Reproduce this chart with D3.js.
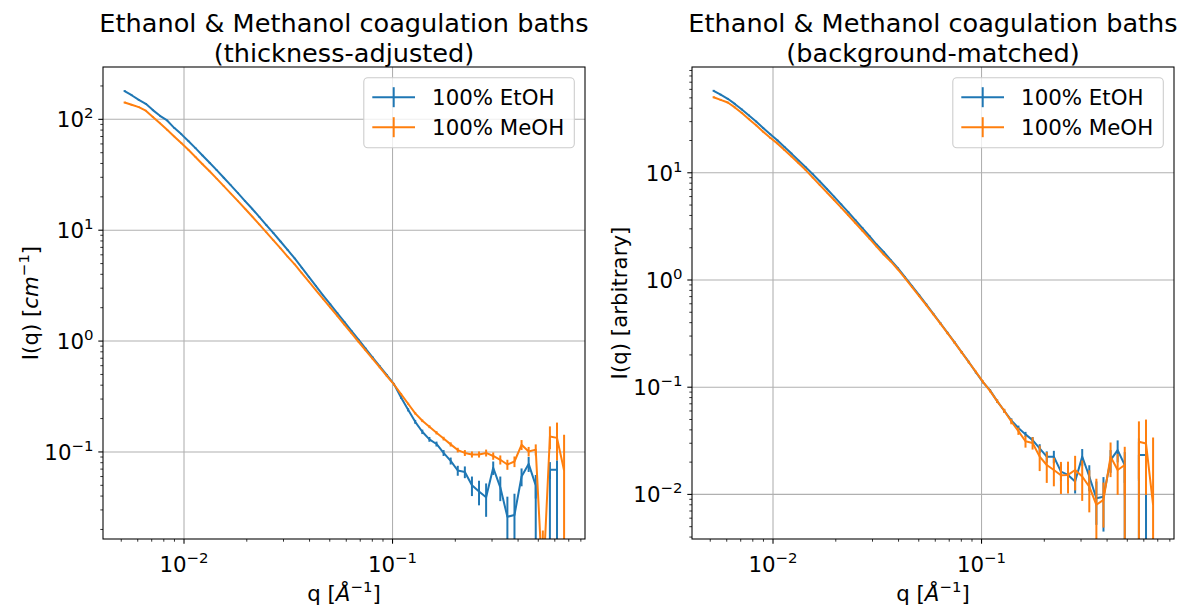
<!DOCTYPE html>
<html>
<head>
<meta charset="utf-8">
<script src="https://d3js.org/d3.v7.min.js"></script>
<style>
body { margin: 0; background: #fff; }
svg text { font-family: "DejaVu Sans", sans-serif; fill: #000; }
</style>
</head>
<body>
<svg id="chart" width="1189" height="608"></svg>
<script>
// scattering vector q [1/A]
const q = [0.00519,0.00561,0.00607,0.00656,0.00709,0.00767,0.00830,0.00897,0.00970,0.01049,
  0.01135,0.01227,0.01327,0.01435,0.01552,0.01678,0.01815,0.01963,0.02123,0.02296,
  0.02483,0.02685,0.02904,0.03140,0.03396,0.03672,0.03971,0.04295,0.04644,0.05023,
  0.05432,0.05874,0.06352,0.06869,0.07428,0.08033,0.08687,0.09395,0.10160,0.10987,
  0.11881,0.12849,0.13895,0.15026,0.16249,0.17572,0.19003,0.20550,0.22223,0.24033,
  0.25989,0.28105,0.30394,0.32868,0.35544,0.38438,0.41568,0.44952,0.48612,0.52570,
  0.56850,0.61479,0.66484]

// thickness-adjusted, cm^-1
const etohThick = [180,165,150,138,121.1,107.6,97.7,83.8,73.6,63.8,
  55.0,47.2,40.6,34.8,29.7,25.4,21.6,18.3,15.6,13.2,
  11.1,9.40,7.91,6.64,5.56,4.59,3.79,3.13,2.58,2.15,
  1.79,1.49,1.236,1.028,0.855,0.711,0.592,0.492,0.409,0.310,
  0.240,0.187,0.152,0.130,0.118,0.098,0.083,0.068,0.066,0.050,
  0.044,0.039,0.072,0.048,0.026,0.027,0.060,0.078,0.050,-0.02,
  0.069,0.069,-0.03]
const etohThickErr = [3.6,2.9,2.6,2.3,2.0,1.7,1.5,1.3,1.1,0.95,
  0.8,0.68,0.58,0.49,0.42,0.36,0.31,0.26,0.22,0.19,
  0.16,0.135,0.115,0.095,0.08,0.067,0.056,0.047,0.04,0.034,
  0.029,0.025,0.021,0.018,0.016,0.014,0.012,0.011,0.010,0.009,
  0.008,0.0075,0.007,0.0065,0.006,0.006,0.006,0.007,0.008,0.010,
  0.011,0.013,0.010,0.012,0.0135,0.015,0.011,0.012,0.012,0.015,
  0.012,0.015,0.02]
const meohThick = [141.9,135.2,128.8,119.7,105.0,92.0,80.4,70.1,61.2,53.1,
  45.8,39.4,34.0,29.2,25.0,21.4,18.3,15.6,13.3,11.27,
  9.57,8.11,6.85,5.78,4.92,4.10,3.44,2.87,2.40,2.01,
  1.69,1.41,1.180,0.986,0.826,0.692,0.579,0.484,0.406,0.332,
  0.272,0.223,0.191,0.169,0.149,0.132,0.117,0.104,0.098,0.095,
  0.095,0.098,0.092,0.085,0.077,0.082,0.116,0.101,0.105,0.006,
  0.138,0.134,0.068]
const meohThickErr = [2.8,2.4,2.1,1.8,1.5,1.3,1.1,0.95,0.8,0.7,
  0.6,0.5,0.43,0.37,0.31,0.27,0.23,0.19,0.165,0.14,
  0.12,0.1,0.085,0.072,0.06,0.05,0.043,0.036,0.031,0.027,
  0.023,0.02,0.017,0.015,0.013,0.011,0.01,0.009,0.008,0.007,
  0.006,0.0055,0.005,0.005,0.005,0.005,0.005,0.005,0.006,0.006,
  0.006,0.007,0.007,0.008,0.008,0.009,0.012,0.01,0.012,0.0136,
  0.032,0.05,0.075]

// background-matched, arbitrary units
const etohBg = [58.2,53.5,49.0,43.9,38.9,34.3,30.1,26.2,22.9,20.1,
  17.4,15.1,13.0,11.27,9.70,8.30,7.06,6.00,5.08,4.30,
  3.62,3.05,2.56,2.14,1.83,1.53,1.288,1.064,0.877,0.721,
  0.592,0.484,0.395,0.322,0.262,0.212,0.172,0.138,0.1117,0.0933,
  0.0741,0.0603,0.0490,0.0417,0.0363,0.0321,0.0269,0.0225,0.0225,0.0163,
  0.0152,0.0132,0.0225,0.0147,0.0092,0.0095,0.0209,0.0259,0.0188,-0.003,
  0.0233,0.0233,-0.005]
const etohBgErr = [1.2,1.0,0.9,0.8,0.7,0.6,0.52,0.45,0.39,0.34,
  0.29,0.25,0.21,0.18,0.16,0.14,0.12,0.1,0.085,0.072,
  0.06,0.051,0.043,0.036,0.03,0.026,0.022,0.018,0.015,0.013,
  0.011,0.009,0.008,0.0068,0.0058,0.005,0.0043,0.0037,0.0032,0.0028,
  0.0025,0.0023,0.0022,0.0021,0.002,0.0022,0.0025,0.0027,0.003,0.003,
  0.003,0.003,0.004,0.004,0.004,0.005,0.005,0.006,0.006,0.002,
  0.010,0.012,0.002]
const meohBg = [50.7,47.9,45.2,40.7,36.1,31.6,27.7,24.2,21.2,18.8,
  16.3,14.2,12.3,10.6,9.0,7.67,6.55,5.57,4.73,4.02,
  3.40,2.88,2.43,2.05,1.73,1.49,1.253,1.040,0.859,0.708,
  0.582,0.478,0.391,0.319,0.260,0.211,0.171,0.139,0.112,0.0923,
  0.0741,0.0603,0.0479,0.0389,0.0313,0.0302,0.0225,0.0188,0.0169,0.0151,
  0.0152,0.0169,0.0147,0.0118,0.0080,0.0089,0.0225,0.0169,0.0188,-0.002,
  0.0310,0.0299,0.0080]
const meohBgErr = [1.1,0.95,0.85,0.75,0.65,0.56,0.48,0.42,0.37,0.32,
  0.27,0.24,0.2,0.17,0.15,0.13,0.11,0.095,0.08,0.068,
  0.057,0.048,0.041,0.034,0.029,0.025,0.021,0.017,0.015,0.013,
  0.011,0.009,0.008,0.0068,0.0058,0.005,0.0043,0.0037,0.0032,0.0028,
  0.0027,0.0027,0.0028,0.003,0.004,0.004,0.006,0.006,0.005,0.005,
  0.005,0.006,0.006,0.005,0.006,0.004,0.008,0.007,0.009,0.001,
  0.017,0.02,0.026]

const seriesNames = ['100% EtOH', '100% MeOH']
const colors = ['#1f77b4', '#ff7f0e']
const xTicks = [0.01, 0.1]
const xDomain = [0.004088, 0.8375]

const W = 482, H = 472, TOP = 67
const FS = 21.33

const panels = [
  { left: 103, yDomain: [0.0164, 296.5], yTicks: [0.1, 1, 10, 100],
    title: ['Ethanol & Methanol coagulation baths', '(thickness-adjusted)'],
    ylabel: 'cm', data: [[etohThick, etohThickErr], [meohThick, meohThickErr]] },
  { left: 692, yDomain: [0.003837, 97.0], yTicks: [0.01, 0.1, 1, 10],
    title: ['Ethanol & Methanol coagulation baths', '(background-matched)'],
    ylabel: 'arb', data: [[etohBg, etohBgErr], [meohBg, meohBgErr]] }
]

const svg = d3.select('#chart')

const minors = (dom) => {
    const out = []
    for (let d = Math.floor(Math.log10(dom[0])); d <= Math.ceil(Math.log10(dom[1])); d++) {
        for (let k = 2; k < 10; k++) {
            const v = k * Math.pow(10, d)
            if (v >= dom[0] && v <= dom[1]) out.push(v)
        }
    }
    return out
}

const powLabel = (sel, v) => {
    const p = Math.round(Math.log10(v))
    sel.append('tspan').text('10')
    sel.append('tspan').attr('font-size', FS * 0.7).attr('dy', -9)
        .text(p < 0 ? '\u2212' + (-p) : String(p))
}

const pos = v => v > 0 ? v : 1e-300

panels.forEach((p, pi) => {

    const x = d3.scaleLog().domain(xDomain).range([0, W])
    const y = d3.scaleLog().domain(p.yDomain).range([H, 0])

    const g = svg.append('g').attr('transform', `translate(${p.left},${TOP})`)

    // grid
    g.selectAll('.gx').data(xTicks).enter().append('line')
        .attr('x1', d => x(d)).attr('x2', d => x(d)).attr('y1', 0).attr('y2', H)
        .attr('stroke', '#b0b0b0').attr('stroke-width', 1.07)
    g.selectAll('.gy').data(p.yTicks).enter().append('line')
        .attr('y1', d => y(d)).attr('y2', d => y(d)).attr('x1', 0).attr('x2', W)
        .attr('stroke', '#b0b0b0').attr('stroke-width', 1.07)

    // data
    const clipId = 'clip' + pi
    g.append('clipPath').attr('id', clipId).append('rect').attr('width', W).attr('height', H)
    const plot = g.append('g').attr('clip-path', `url(#${clipId})`)

    const line = d3.line().x(d => x(d[0])).y(d => y(pos(d[1])))

    p.data.forEach(([vals, errs], si) => {
        const pts = q.map((qq, i) => [qq, vals[i], errs[i]])
        plot.append('path').datum(pts)
            .attr('d', line)
            .attr('fill', 'none')
            .attr('stroke', colors[si])
            .attr('stroke-width', 2)
            .attr('stroke-linejoin', 'round')
        plot.selectAll('.eb' + si).data(pts.filter(d => d[1] + d[2] > 0)).enter().append('line')
            .attr('x1', d => x(d[0])).attr('x2', d => x(d[0]))
            .attr('y1', d => y(pos(d[1] - d[2])))
            .attr('y2', d => y(d[1] + d[2]))
            .attr('stroke', colors[si])
            .attr('stroke-width', 2)
    })

    // spines
    g.append('rect').attr('width', W).attr('height', H)
        .attr('fill', 'none').attr('stroke', '#000').attr('stroke-width', 1.07)

    // x ticks
    g.selectAll('.xt').data(xTicks).enter().append('line')
        .attr('x1', d => x(d)).attr('x2', d => x(d)).attr('y1', H).attr('y2', H + 4.7)
        .attr('stroke', '#000').attr('stroke-width', 1.07)
    g.selectAll('.xm').data(minors(xDomain)).enter().append('line')
        .attr('x1', d => x(d)).attr('x2', d => x(d)).attr('y1', H).attr('y2', H + 2.7)
        .attr('stroke', '#000').attr('stroke-width', 0.8)
    g.selectAll('.xl').data(xTicks).enter().append('text')
        .attr('x', d => x(d)).attr('y', H + 33)
        .attr('text-anchor', 'middle').attr('font-size', FS)
        .each(function (d) { powLabel(d3.select(this), d) })

    // y ticks
    g.selectAll('.yt').data(p.yTicks).enter().append('line')
        .attr('y1', d => y(d)).attr('y2', d => y(d)).attr('x1', 0).attr('x2', -4.7)
        .attr('stroke', '#000').attr('stroke-width', 1.07)
    g.selectAll('.ym').data(minors(p.yDomain)).enter().append('line')
        .attr('y1', d => y(d)).attr('y2', d => y(d)).attr('x1', 0).attr('x2', -2.7)
        .attr('stroke', '#000').attr('stroke-width', 0.8)
    g.selectAll('.yl').data(p.yTicks).enter().append('text')
        .attr('x', -9.5).attr('y', d => y(d) + 8)
        .attr('text-anchor', 'end').attr('font-size', FS)
        .each(function (d) { powLabel(d3.select(this), d) })

    // axis labels
    const xl = g.append('text').attr('x', W / 2).attr('y', H + 62)
        .attr('text-anchor', 'middle').attr('font-size', FS)
    xl.append('tspan').text('q [')
    xl.append('tspan').attr('font-style', 'italic').text('\u00c5')
    xl.append('tspan').attr('font-size', FS * 0.7).attr('dy', -9).text('\u22121')
    xl.append('tspan').attr('dy', 9).text(']')

    const yl = g.append('text')
        .attr('transform', `translate(-72,${H / 2}) rotate(-90)`)
        .attr('text-anchor', 'middle').attr('dy', '0.35em').attr('font-size', FS)
    if (p.ylabel === 'cm') {
        yl.append('tspan').text('I(q) [')
        yl.append('tspan').attr('font-style', 'italic').text('cm')
        yl.append('tspan').attr('font-size', FS * 0.7).attr('dy', -9).text('\u22121')
        yl.append('tspan').attr('dy', 9).text(']')
    } else {
        yl.text('I(q) [arbitrary]')
    }

    // title
    p.title.forEach((t, ti) => {
        g.append('text').attr('x', W / 2).attr('y', -35 + ti * 30.2)
            .attr('text-anchor', 'middle').attr('font-size', FS * 1.2).text(t)
    })

    // legend
    const lg = g.append('g').attr('transform', `translate(${W - 10.7 - 210.5},10.7)`)
    lg.append('rect').attr('width', 210.5).attr('height', 70)
        .attr('rx', 4).attr('fill', '#fff').attr('fill-opacity', 0.8)
        .attr('stroke', '#cccccc').attr('stroke-width', 1.07)
    seriesNames.forEach((name, si) => {
        const cy = 19.5 + si * 30
        lg.append('line').attr('x1', 8.5).attr('x2', 51.2).attr('y1', cy).attr('y2', cy)
            .attr('stroke', colors[si]).attr('stroke-width', 2)
        lg.append('line').attr('x1', 29.9).attr('x2', 29.9).attr('y1', cy - 10).attr('y2', cy + 10)
            .attr('stroke', colors[si]).attr('stroke-width', 2)
        lg.append('text').attr('x', 68.3).attr('y', cy + 7.7).attr('font-size', FS).text(name)
    })
})
</script>
</body>
</html>
